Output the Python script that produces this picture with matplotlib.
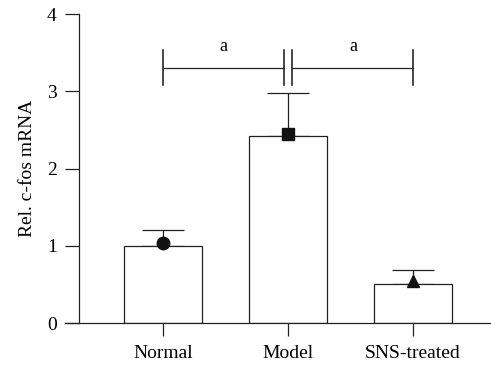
import numpy as np
import matplotlib
matplotlib.use("Agg")
from matplotlib import pyplot as plt

plt.rcParams['font.family'] = ['Liberation Serif', 'DejaVu Serif']

# datos
groups = ['Normal', 'Model', 'SNS-treated']
means = [1.0, 2.42, 0.50]
err_up = [0.21, 0.56, 0.18]
points = [1.03, 2.45, 0.55]
markers = ['o', 's', '^']
yticks = [0, 1, 2, 3, 4]

fig = plt.figure(figsize=(4.91, 3.70), dpi=100)
ax = fig.add_axes([0.161, 0.127, 0.837, 0.835])

x = np.arange(len(groups))
lw = 0.9
ax.bar(x, means, width=0.63, color='white', edgecolor='#222222', linewidth=lw, zorder=2)
ax.errorbar(x, means, yerr=[np.zeros(3), err_up], fmt='none', ecolor='#222222',
            elinewidth=lw, capsize=14.8, capthick=lw, zorder=1)
for xi, yi, m in zip(x, points, markers):
    ax.plot(xi, yi, marker=m, color='#111111', markersize=9 if m != 's' else 8.5,
            linestyle='none', zorder=3)

# brackets de significancia
yb = 3.30
ax.plot([0, 0.97], [yb, yb], color='#222222', lw=lw)
ax.plot([1.03, 2.0], [yb, yb], color='#222222', lw=lw)
for xv in [0, 0.97, 1.03, 2.0]:
    ax.plot([xv, xv], [3.08, 3.54], color='#222222', lw=lw * 1.3)
ax.text(0.48, 3.47, 'a', ha='center', va='bottom', fontsize=13)
ax.text(1.52, 3.47, 'a', ha='center', va='bottom', fontsize=13)

ax.set_xlim(-0.672, 2.616)
ax.set_ylim(0, 4)
ax.set_xticks(x)
ax.set_xticklabels(groups, fontsize=14)
ax.set_yticks(yticks)
ax.set_yticklabels([str(t) for t in yticks], fontsize=14)
ax.set_ylabel('Rel. c-fos mRNA', fontsize=14, labelpad=8)

ax.spines['top'].set_visible(False)
ax.spines['right'].set_visible(False)
ax.spines['left'].set_linewidth(lw)
ax.spines['bottom'].set_linewidth(lw)
ax.spines['left'].set_color('#222222')
ax.spines['bottom'].set_color('#222222')
ax.spines['bottom'].set_bounds(-0.784, 2.616)
ax.tick_params(axis='x', direction='out', length=9, width=lw, color='#222222', pad=7)
ax.tick_params(axis='y', direction='out', length=10, width=lw, color='#222222', pad=6)

fig.savefig('out.png', dpi=100)
